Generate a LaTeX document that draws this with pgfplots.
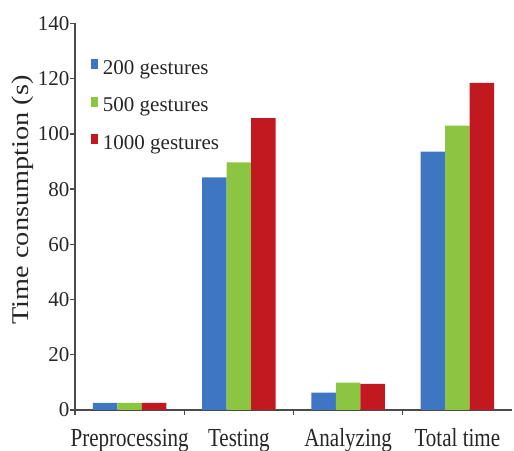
\documentclass[border=0pt]{standalone}
\usepackage{pgfplots}
\usepackage{pgfplotstable}
\pgfplotsset{compat=1.18}
\usepackage{fontspec}
\setmainfont{Liberation Serif}
\newfontfamily\catfont{Liberation Serif}[FakeStretch=0.81]
\newfontfamily\ylabfont{Liberation Serif}[FakeStretch=1.18]

\definecolor{barblue}{RGB}{62,118,195}
\definecolor{bargreen}{RGB}{140,197,66}
\definecolor{barred}{RGB}{194,24,32}
\definecolor{axgray}{RGB}{75,75,75}

% time consumption (s) per stage
\pgfplotstableread{
x   g200   g500   g1000
0   2.6    2.6    2.6
1   84.3   89.7   105.7
2   6.3    9.9    9.5
3   93.6   103.0  118.5
}\timedata

\begin{document}
\begin{tikzpicture}[font=\fontsize{21bp}{25bp}\selectfont]
\begin{axis}[
    at={(0,0)}, anchor=south west,
    scale only axis,
    width=437bp, height=386.5bp,
    ybar=0pt, bar width=24.5bp,
    xmin=-0.5, xmax=3.5,
    ymin=0, ymax=140,
    ytick={0,20,...,140},
    xtick={-0.5,0.5,1.5,2.5},
    xticklabels={},
    extra x ticks={0,1,2,3},
    extra x tick labels={Preprocessing,Testing,Analyzing,Total time},
    extra x tick style={major tick length=0pt,
        tick label style={font=\catfont\fontsize{26bp}{30bp}\selectfont,
            anchor=base, yshift=-36.7bp}},
    axis x line*=bottom, axis y line*=left,
    axis line style={axgray, line width=1.3bp, -},
    tick style={axgray, line width=1.3bp},
    major tick length=4.5bp,
    tick align=outside,
    yticklabel style={inner xsep=1bp, text=black!85},
    xticklabel style={text=black!85},
    /pgf/number format/assume math mode=true,
    ylabel={Time consumption (s)},
    every axis y label/.style={at={(rel axis cs:-0.1201,0.5433)},
        anchor=center, rotate=90, text=black!85,
        font=\ylabfont\fontsize{24bp}{28bp}\selectfont},
    legend image code/.code={\fill[#1] (0bp,0bp) rectangle (7bp,10bp);},
    legend style={at={(rel axis cs:0.0366,0.908)}, anchor=north west,
        draw=none, fill=none, inner sep=0pt, outer sep=0pt,
        row sep=17.5bp, text=black!85,
        nodes={inner ysep=0pt, inner xsep=5bp, text height=15bp, text depth=5bp,
            font=\fontsize{21bp}{25bp}\selectfont}},
    legend cell align=left,
]
\addplot[fill=barblue, draw=none] table[x=x, y=g200] {\timedata};
\addlegendentry{200 gestures}
\addplot[fill=bargreen, draw=none] table[x=x, y=g500] {\timedata};
\addlegendentry{500 gestures}
\addplot[fill=barred, draw=none] table[x=x, y=g1000] {\timedata};
\addlegendentry{1000 gestures}
\end{axis}
\pgfresetboundingbox
\path[use as bounding box] (-75bp,-41bp) rectangle (439bp,410bp);
\end{tikzpicture}
\end{document}
